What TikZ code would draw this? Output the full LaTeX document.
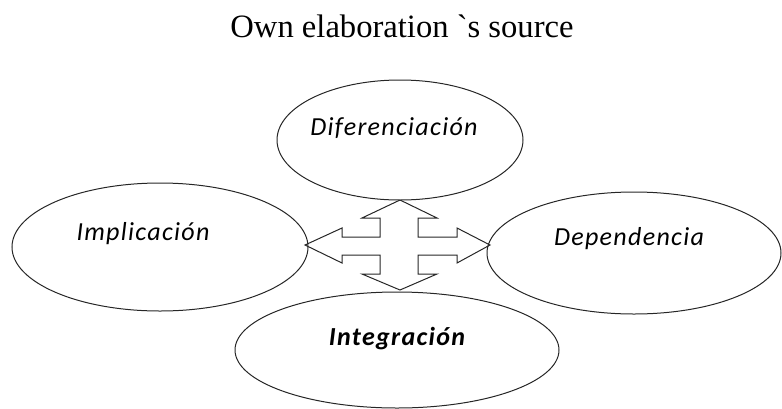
\documentclass[tikz,border=0pt]{standalone}
\usepackage{fontspec}
\setmainfont{Liberation Serif}
\newfontfamily\titlefont{Liberation Serif}[Ligatures=TeXOff]
\newfontfamily\calib{Carlito}[LetterSpace=5]
\usetikzlibrary{shapes.geometric}

\begin{document}
\begin{tikzpicture}[x=1pt,y=-1pt,
    oval/.style={ellipse, draw=black!85, line width=1pt, inner sep=0pt},
    lbl/.style={font=\calib\itshape\fontsize{26}{30}\selectfont, anchor=base}]
  \useasboundingbox (0,0) rectangle (782,408);

  \node[font=\titlefont\fontsize{32.6}{38}\selectfont, anchor=base] (title) at (402,37.5) {Own elaboration `s source};

  % the four ovals
  \node[oval, minimum width=246, minimum height=120] (dif) at (400,140) {};
  \node[oval, minimum width=296, minimum height=128] (imp) at (160,247) {};
  \node[oval, minimum width=294, minimum height=122] (dep) at (634,253) {};
  \node[oval, minimum width=324, minimum height=116] (int) at (397,350) {};

  \node[lbl] (difT) at (394,135) {Diferenciación};
  \node[lbl] (impT) at (143,240) {Implicación};
  \node[lbl] (depT) at (629,245) {Dependencia};
  \node[lbl, font=\calib\bfseries\itshape\fontsize{26}{30}\selectfont] (intT) at (397,345) {Integración};

  % four-way arrow in the middle
  \coordinate (hub) at (400,245);
  \draw[shift={(hub)}, draw=black!85, line width=1pt, line join=miter]
    (0,-45) -- (37,-27) -- (18,-27) -- (18,-8) -- (57,-8) -- (57,-17)
    -- (90,0) -- (57,18) -- (57,10) -- (18,10) -- (18,29) -- (37,29)
    -- (0,45) -- (-38,29) -- (-20,29) -- (-20,10) -- (-58,10) -- (-58,18)
    -- (-95,0) -- (-58,-17) -- (-58,-8) -- (-20,-8) -- (-20,-27) -- (-38,-27) -- cycle;
\end{tikzpicture}
\end{document}
